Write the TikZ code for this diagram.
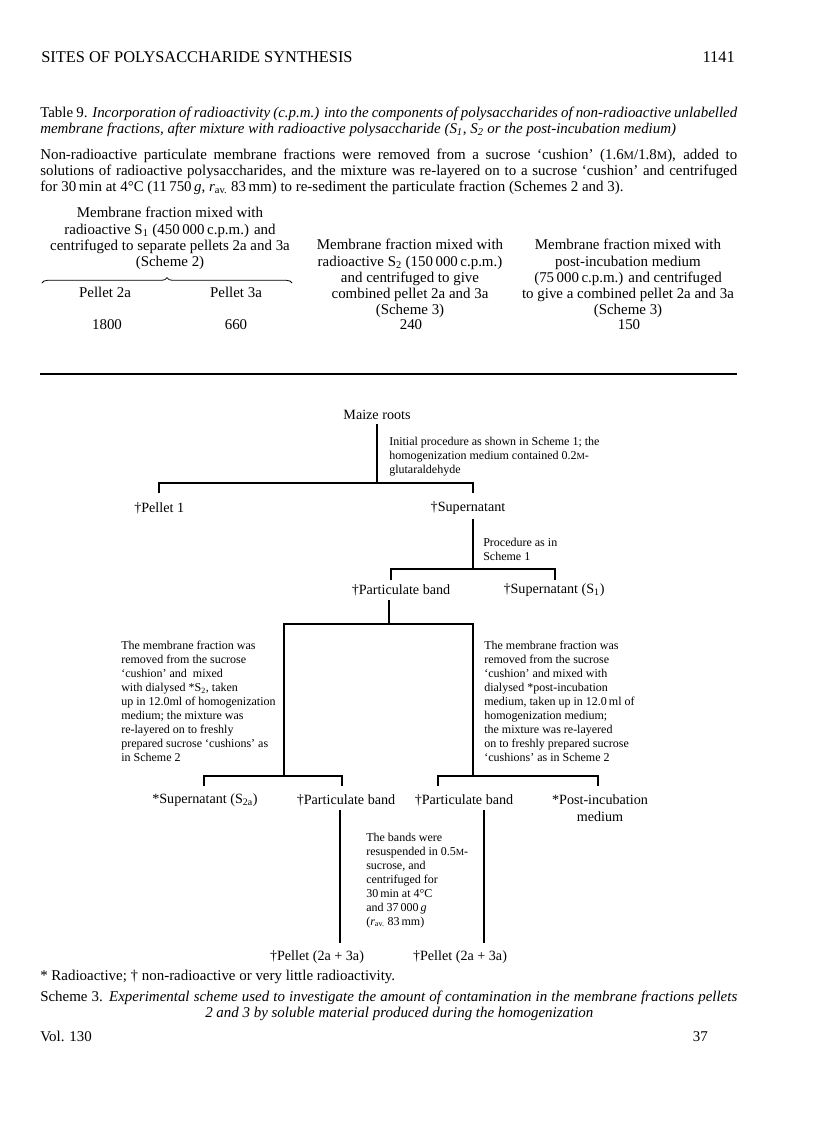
\documentclass[tikz,border=0pt]{standalone}
\usepackage{fontspec}
\setmainfont{Liberation Serif}
\usetikzlibrary{positioning, decorations.pathreplacing}

\newcommand{\molar}{\scalebox{0.78}{M}}
\newcommand{\fullline}[1]{\makebox[522.75pt][s]{#1}}

\begin{document}
\begin{tikzpicture}[x=0.75pt, y=-0.75pt,
  txt/.style={inner sep=0pt, font=\fontsize{11.2}{12.2}\selectfont},
  head/.style={inner sep=0pt, font=\fontsize{12.3}{14}\selectfont},
  col/.style={txt, align=center, anchor=north},
  item/.style={inner xsep=0pt, inner ysep=3pt, font=\fontsize{10.6}{12.4}\selectfont},
  proc/.style={inner sep=0pt, anchor=north west, align=left, font=\fontsize{9}{10.5}\selectfont},
  link/.style={line width=1.1pt}]

\path[fill=white] (0,0) rectangle (816,1136);

% --- running head ---
\node[head, anchor=base west] (runhead) at (41,62) {SITES OF POLYSACCHARIDE SYNTHESIS};
\node[head, anchor=base east] (folio) at (735,62) {1141};

% --- table 9 caption and note ---
\node[txt, anchor=base west] (capA) at (40,117.5) {\fullline{Table 9. \textit{Incorporation of radioactivity (c.p.m.) into the components of polysaccharides of non-radioactive unlabelled}}};
\node[txt, anchor=base west] (capB) at (40,133.5) {\textit{membrane fractions, after mixture with radioactive polysaccharide (S\textsubscript{1}, S\textsubscript{2} or the post-incubation medium)}};
\node[txt, anchor=base west] (noteA) at (40,159.5) {\fullline{Non-radioactive particulate membrane fractions were removed from a sucrose ‘cushion’ (1.6\molar/1.8\molar), added to}};
\node[txt, anchor=base west] (noteB) at (40,175.5) {\fullline{solutions of radioactive polysaccharides, and the mixture was re-layered on to a sucrose ‘cushion’ and centrifuged}};
\node[txt, anchor=base west] (noteC) at (40,191.5) {for 30\,min at 4°C (11\,750\,\textit{g}, \textit{r}\textsubscript{av.} 83\,mm) to re-sediment the particulate fraction (Schemes 2 and 3).};

% --- table body ---
\node[col] (headA) at (170,207) {Membrane fraction mixed with\\radioactive S\textsubscript{1} (450\,000\,c.p.m.) and\\centrifuged to separate pellets 2a and 3a\\(Scheme 2)};
\draw[decorate, decoration={brace, amplitude=4pt}, line width=0.6pt] (42,283) -- (292,283);
\node[txt, anchor=base] (pel2a) at (105,297.5) {Pellet 2a};
\node[txt, anchor=base] (pel3a) at (236,297.5) {Pellet 3a};
\node[col] (headB) at (410,239) {Membrane fraction mixed with\\radioactive S\textsubscript{2} (150\,000\,c.p.m.)\\and centrifuged to give\\combined pellet 2a and 3a\\(Scheme 3)};
\node[col] (headC) at (628,239) {Membrane fraction mixed with\\post-incubation medium\\(75\,000\,c.p.m.) and centrifuged\\to give a combined pellet 2a and 3a\\(Scheme 3)};
\node[txt, anchor=base] (val2a) at (107,329.5) {1800};
\node[txt, anchor=base] (val3a) at (236,329.5) {660};
\node[txt, anchor=base] (valS2) at (411,329.5) {240};
\node[txt, anchor=base] (valPI) at (629,329.5) {150};
\draw[line width=1.5pt] (40,374) -- (737,374);

% --- scheme 3 ---
\node[item] (maize) at (377,415) {Maize roots};
\coordinate (j1) at (377,483);
\draw[link] (maize) -- (j1);
\node[proc] (procA) at (389,437) {Initial procedure as shown in Scheme 1; the\\homogenization medium contained 0.2\molar-\\glutaraldehyde};
\coordinate (t1a) at (159,493);
\coordinate (t1b) at (473,493);
\draw[link] (t1a) |- (j1) -| (t1b);
\node[item, anchor=west] (pellet1) at (134,508) {†Pellet 1};
\node[item] (super) at (468,508) {†Supernatant};

\coordinate (j2) at (473,569);
\draw[link] (super.south -| j2) -- (j2);
\node[proc] (procB) at (483,538) {Procedure as in\\Scheme 1};
\coordinate (t2a) at (391,580);
\coordinate (t2b) at (555,580);
\draw[link] (t2a) |- (j2) -| (t2b);
\node[item] (band) at (401,590) {†Particulate band};
\node[item] (superS1) at (554,590) {†Supernatant (S\textsubscript{1})};

\coordinate (j3) at (389,624);
\draw[link] (band.south -| j3) -- (j3);
\coordinate (j3a) at (284,776);
\coordinate (j3b) at (473,776);
\draw[link] (j3a) |- (j3) -| (j3b);
\node[proc] (procL) at (121,641) {The membrane fraction was\\removed from the sucrose\\‘cushion’ and\ \ mixed\\with dialysed *S\textsubscript{2}, taken\\up in 12.0ml of homogenization\\medium; the mixture was\\re-layered on to freshly\\prepared sucrose ‘cushions’ as\\in Scheme 2};
\node[proc] (procR) at (484,641) {The membrane fraction was\\removed from the sucrose\\‘cushion’ and mixed with\\dialysed *post-incubation\\medium, taken up in 12.0\,ml of\\homogenization medium;\\the mixture was re-layered\\on to freshly prepared sucrose\\‘cushions’ as in Scheme 2};

\coordinate (t4a) at (204,786);
\coordinate (t4b) at (342,786);
\draw[link] (t4a) |- (j3a) -| (t4b);
\coordinate (t4c) at (438,786);
\coordinate (t4d) at (598,786);
\draw[link] (t4c) |- (j3b) -| (t4d);
\node[item] (superS2) at (205,800) {*Supernatant (S\textsubscript{2a})};
\node[item] (bandL) at (346,800) {†Particulate band};
\node[item] (bandR) at (464,800) {†Particulate band};
\node[item, align=center] (postinc) at (600,808) {*Post-incubation\\medium};

\coordinate (e5a) at (340,943);
\coordinate (e5b) at (484,943);
\draw[link] (bandL.south -| e5a) -- (e5a);
\draw[link] (bandR.south -| e5b) -- (e5b);
\node[proc] (procC) at (366,833) {The bands were\\resuspended in 0.5\molar-\\sucrose, and\\centrifuged for\\30\,min at 4°C\\and 37\,000\,\textit{g}\\(\textit{r}\textsubscript{av.} 83\,mm)};
\node[item] (pelletL) at (317,957) {†Pellet (2a + 3a)};
\node[item] (pelletR) at (460,957) {†Pellet (2a + 3a)};

% --- footnote, legend, foot line ---
\node[txt, anchor=base west] (note) at (40,980) {* Radioactive; † non-radioactive or very little radioactivity.};
\node[txt, anchor=base west] (legA) at (40,1001) {\fullline{Scheme 3. \textit{Experimental scheme used to investigate the amount of contamination in the membrane fractions pellets}}};
\node[txt, anchor=base west] (legB) at (205,1017) {\textit{2 and 3 by soluble material produced during the homogenization}};
\node[txt, anchor=base west] (vol) at (40,1041) {Vol. 130};
\node[txt, anchor=base east] (folioB) at (708,1041) {37};

\end{tikzpicture}
\end{document}
